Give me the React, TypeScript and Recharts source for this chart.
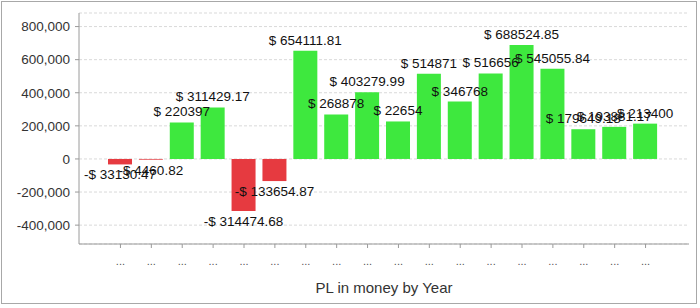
import { BarChart, Bar, XAxis, YAxis, CartesianGrid, Cell, LabelList } from 'recharts';

// one "..." per year, the axis shows them truncated
const yearTicks = ['...', '...', '...', '...', '...', '...', '...', '...', '...', '...', '...', '...', '...', '...', '...', '...', '...', '...'];

const plMoney = [
    -33130.47, -4460.82, 220397, 311429.17, -314474.68, -133654.87, 654111.81, 268878, 403279.99,
    226540, 514871, 346768, 516656, 688524.85, 545055.84, 179649.18, 193881.17, 213400,
];

// labels as they are printed over the bars
const plLabels = [
    '-$ 33130.47', '-$ 4460.82', '$ 220397', '$ 311429.17', '-$ 314474.68', '-$ 133654.87', '$ 654111.81',
    '$ 268878', '$ 403279.99', '$ 22654', '$ 514871', '$ 346768', '$ 516656', '$ 688524.85', '$ 545055.84',
    '$ 179649.18', '$ 193881.17', '$ 213400',
];

const yTicks = [-400000, -200000, 0, 200000, 400000, 600000, 800000];

const GAIN = '#3ee83e';
const LOSS = '#e63a40';
const FONT = '"Liberation Sans", Arial, sans-serif';

const data = plMoney.map((v, i) => ({ idx: i, value: v, label: plLabels[i] }));

// label above a gain bar, below a loss bar, never wrapped
function BarValue(props: any) {
    const { x, y, width, height, index, value } = props;
    const top = Math.min(y, y + height);
    const bottom = Math.max(y, y + height);
    const neg = plMoney[index] < 0;
    return (
        <text
            x={x + width / 2}
            y={neg ? bottom + 15 : top - 6}
            textAnchor="middle"
            fill="#111"
            fontSize={13.5}
            fontFamily={FONT}
        >
            {value}
        </text>
    );
}

export default function App() {
    return (
        <div style={{ position: 'absolute', left: 0, top: 0, width: 700, height: 308, background: '#fff', fontFamily: FONT }}>
            <div style={{ position: 'absolute', left: 1, top: 1, width: 696, height: 303, border: '1px solid #a8a8a8', boxSizing: 'border-box' }} />
            <div style={{ position: 'absolute', left: 0, top: 0 }}>
                <BarChart width={700} height={308} data={data} margin={{ top: 13, right: 11, bottom: 12, left: 0 }} barSize={24}>
                    <CartesianGrid vertical={false} strokeDasharray="3 2" stroke="#d9d9d9" />
                    <XAxis
                        dataKey="idx"
                        type="category"
                        height={52}
                        padding={{ left: 26, right: 28 }}
                        tickFormatter={(i) => yearTicks[i]}
                        tick={{ fill: '#555', fontSize: 11, fontFamily: FONT }}
                        tickSize={4}
                        tickMargin={9}
                        stroke="#9a9a9a"
                        interval={0}
                        label={{ value: 'PL in money by Year', position: 'insideBottom', offset: 3, fill: '#333', fontSize: 15, fontFamily: FONT }}
                    />
                    <XAxis xAxisId="top" orientation="top" dataKey="idx" height={0} tick={false} tickLine={false} stroke="#9a9a9a" />
                    <YAxis
                        width={79}
                        domain={[-514000, 882000]}
                        ticks={yTicks}
                        allowDataOverflow
                        tickFormatter={(v) => v.toLocaleString('en-US')}
                        tick={{ fill: '#333', fontSize: 13.5, fontFamily: FONT }}
                        tickSize={4}
                        tickMargin={5}
                        stroke="#9a9a9a"
                    />
                    <YAxis yAxisId="right" orientation="right" width={0} tick={false} tickLine={false} stroke="#9a9a9a" />
                    <Bar dataKey="value" isAnimationActive={false}>
                        {data.map((d) => (
                            <Cell key={d.idx} fill={d.value < 0 ? LOSS : GAIN} />
                        ))}
                        <LabelList dataKey="label" content={BarValue} />
                    </Bar>
                </BarChart>
            </div>
        </div>
    );
}
